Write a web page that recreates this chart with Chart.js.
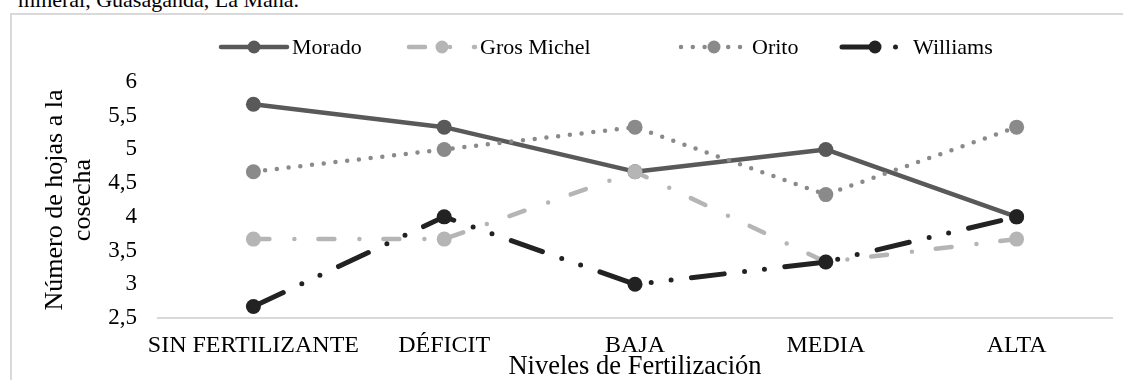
<!DOCTYPE html>
<html lang="es">
<head>
<meta charset="utf-8">
<title>Número de hojas a la cosecha</title>
<script src="https://cdn.jsdelivr.net/npm/chart.js@4/dist/chart.umd.min.js"></script>
<style>
  html, body { margin: 0; padding: 0; background: #fff; overflow: hidden; }
  body { width: 1123px; height: 380px; position: relative; }
  .caption {
    position: absolute; left: 18px; top: -11px;
    font: 22px/22px "Liberation Serif", "Times New Roman", serif;
    color: #000; white-space: nowrap;
  }
  .frame {
    position: absolute; left: 10px; top: 13px; width: 1140px; height: 420px;
    border: 2px solid #d9d9d9; box-sizing: border-box;
  }
  #chart { position: absolute; left: 0; top: 0; }
</style>
</head>
<body>
<div class="caption">mineral, Guasaganda, La Maná.</div>
<div class="frame"></div>
<canvas id="chart" width="1123" height="380"></canvas>
<script>
// Fertilisation levels on the x axis
const categories = ['SIN FERTILIZANTE', 'DÉFICIT', 'BAJA', 'MEDIA', 'ALTA'];

// Leaves at harvest per variety
const morado     = [5.67, 5.33, 4.67, 5.00, 4.00];
const grosMichel = [3.67, 3.67, 4.67, 3.33, 3.67];
const orito      = [4.67, 5.00, 5.33, 4.33, 5.33];
const williams   = [2.67, 4.00, 3.00, 3.33, 4.00];

// Y axis ticks, written with a decimal comma
const yTicks      = [2.5, 3, 3.5, 4, 4.5, 5, 5.5, 6];
const yTickLabels = ['2,5', '3', '3,5', '4', '4,5', '5', '5,5', '6'];

const SERIF = '"Liberation Serif", "Times New Roman", serif';

function series(label, data, color, width, dash, order) {
  return {
    label, data, order,
    borderColor: color,
    backgroundColor: color,
    borderWidth: width,
    borderDash: dash,
    borderCapStyle: 'round',
    borderJoinStyle: 'round',
    pointRadius: 7.5,
    pointHoverRadius: 7.5,
    pointBorderWidth: 0,
    pointBackgroundColor: color,
    pointBorderColor: color,
    tension: 0,
    fill: false
  };
}

// Legend drawn as line samples with a marker in the middle, like the series
const lineLegend = {
  id: 'lineLegend',
  afterDraw(chart, args, opts) {
    const ctx = chart.ctx;
    ctx.save();
    chart.data.datasets.forEach((ds, i) => {
      const x0 = opts.starts[i];
      const y = opts.y;
      const w = opts.sampleWidth;
      ctx.save();
      ctx.beginPath();
      ctx.rect(x0 - 4, y - 10, w + 8, 20);
      ctx.clip();
      ctx.strokeStyle = ds.borderColor;
      ctx.lineWidth = ds.borderWidth;
      ctx.lineCap = 'round';
      ctx.setLineDash(ds.borderDash || []);
      ctx.beginPath();
      ctx.moveTo(x0, y);
      ctx.lineTo(x0 + w, y);
      ctx.stroke();
      ctx.restore();
      ctx.fillStyle = ds.pointBackgroundColor;
      ctx.beginPath();
      ctx.arc(x0 + w / 2, y, opts.markerRadius, 0, Math.PI * 2);
      ctx.fill();
      ctx.fillStyle = '#000';
      ctx.font = opts.font;
      ctx.textBaseline = 'middle';
      ctx.textAlign = 'left';
      ctx.fillText(ds.label, x0 + w + opts.gap, y + 1);
    });
    ctx.restore();
  }
};

new Chart(document.getElementById('chart'), {
  type: 'line',
  data: {
    labels: categories,
    datasets: [
      series('Morado', morado, '#595959', 4.5, [], 4),
      series('Gros Michel', grosMichel, '#b5b5b5', 4.5, [16, 25, 0, 24], 3),
      series('Orito', orito, '#8a8a8a', 4.5, [0, 11.8], 2),
      series('Williams', williams, '#222222', 5, [33, 20.5, 0, 20, 0, 20.5], 1)
    ]
  },
  options: {
    responsive: false,
    animation: false,
    devicePixelRatio: 1,
    layout: { padding: { left: 14, right: 11, top: 82, bottom: 0 } },
    plugins: {
      legend: { display: false },
      tooltip: { enabled: false },
      lineLegend: {
        starts: [221, 409, 681, 842],
        sampleWidth: 66,
        gap: 5,
        y: 47,
        markerRadius: 6.5,
        font: '22px ' + SERIF
      }
    },
    scales: {
      x: {
        type: 'category',
        offset: true,
        grid: { display: false, drawTicks: false },
        border: { display: true, color: '#d9d9d9', width: 2 },
        ticks: {
          color: '#000',
          font: { family: SERIF, size: 24, lineHeight: 1.2 },
          padding: 13,
          maxRotation: 0,
          autoSkip: false
        },
        title: {
          display: true,
          text: 'Niveles de Fertilización',
          color: '#000',
          font: { family: SERIF, size: 26.5, lineHeight: 1 },
          padding: { top: 0, bottom: 0 }
        },
        afterFit(scale) { scale.height = 62; }
      },
      y: {
        min: 2.5,
        max: 6,
        grid: { display: false, drawTicks: false },
        border: { display: false },
        afterBuildTicks(scale) { scale.ticks = yTicks.map(v => ({ value: v })); },
        ticks: {
          color: '#000',
          font: { family: SERIF, size: 23 },
          padding: 21,
          callback(value) {
            const i = yTicks.indexOf(value);
            return i >= 0 ? yTickLabels[i] : '';
          }
        },
        title: {
          display: true,
          text: ['Número de hojas a la', 'cosecha'],
          color: '#000',
          font: { family: SERIF, size: 26, lineHeight: 1.08 },
          padding: { top: 27, bottom: 0 }
        },
        afterFit(scale) { scale.width = 144; }
      }
    }
  },
  plugins: [lineLegend]
});
</script>
</body>
</html>
